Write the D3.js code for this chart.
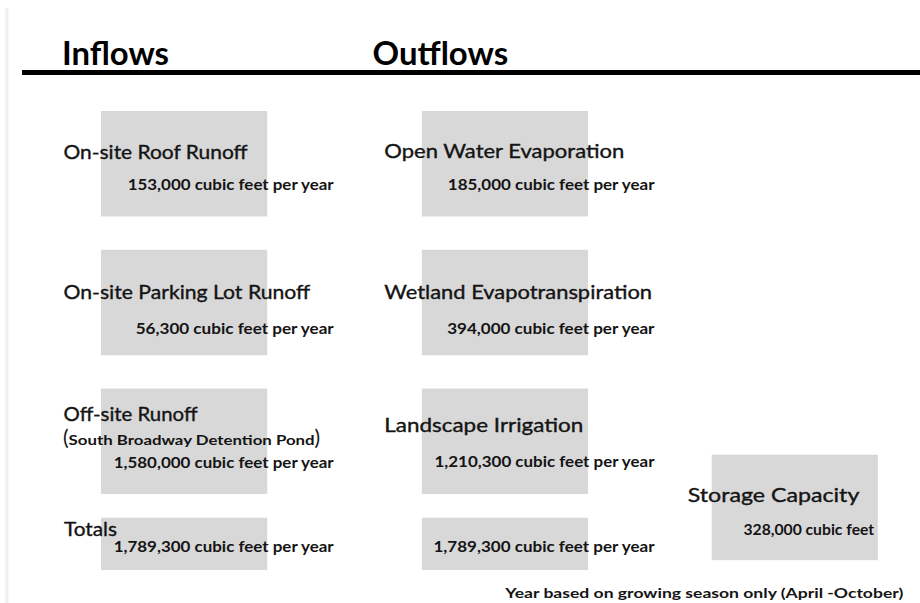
<!DOCTYPE html>
<html>
<head>
<meta charset="utf-8">
<script src="https://cdn.jsdelivr.net/npm/d3@7/dist/d3.min.js"></script>
<style>
  html, body { margin: 0; padding: 0; background: #fff; }
  svg { display: block; font-family: Lato, "Open Sans", sans-serif; }
  .label { stroke: #141414; stroke-width: 0.35px; }
</style>
</head>
<body>
<svg id="svg" width="920" height="603"></svg>
<script>
// data
var headings = ['Inflows', 'Outflows'];
var inflowNames = ['On-site Roof Runoff', 'On-site Parking Lot Runoff', 'Off-site Runoff'];
var inflowNotes = ['', '', 'South Broadway Detention Pond'];
var inflowValues = [153000, 56300, 1580000];
var outflowNames = ['Open Water Evaporation', 'Wetland Evapotranspiration', 'Landscape Irrigation'];
var outflowValues = [185000, 394000, 1210300];
var totalsLabel = 'Totals';
var totalValues = [1789300, 1789300];
var storageName = 'Storage Capacity';
var storageValue = 328000;
var footnote = 'Year based on growing season only (April -October)';

// layout: baselines relative to the box top, and text widths (the original face is wide)
var inLabelDy = [48.3, 49.5, 32.2], inValueDy = [79, 84.5, 79.8];
var outLabelDy = [47.3, 49.5, 43.2], outValueDy = [79, 84.5, 78.2];
var inLabelW = [184, 246.7, 134], outLabelW = [240, 267.7, 199];
var inValueW = [206, 198, 220], outValueW = [206.7, 207.3, 220];
var headW = [107, 135.7];

var fmt = d3.format(',');
var boxColor = '#d8d8d8';
var ink = '#141414';

var svg = d3.select('#svg');

// faint edge at the left
svg.append('line').attr('x1', 7).attr('x2', 7).attr('y1', 8).attr('y2', 603)
    .attr('stroke', '#f0f0f0').attr('stroke-width', 3);

// columns and rows
var col = d3.scaleBand().domain(['in', 'out']).range([101, 588]).paddingInner(0.482);
var row = d3.scaleBand().domain([0, 1, 2]).range([111, 494]).paddingInner(0.24);

function fit(sel, w) {
    sel.attr('textLength', w).attr('lengthAdjust', 'spacingAndGlyphs');
}

// heading and rule
svg.append('g').selectAll('text').data(headings).enter().append('text')
    .attr('class', 'head')
    .attr('x', function(d, i) { return i == 0 ? 62 : 372.5; })
    .attr('y', 65)
    .attr('font-size', 32).attr('font-weight', 700).attr('fill', '#000')
    .attr('textLength', function(d, i) { return headW[i]; }).attr('lengthAdjust', 'spacingAndGlyphs')
    .text(function(d) { return d; });

svg.append('line').attr('x1', 22).attr('x2', 920).attr('y1', 72.5).attr('y2', 72.5)
    .attr('stroke', '#000').attr('stroke-width', 5);

function drawColumn(key, names, values, labelDy, valueDy, labelW, valueW, notes) {
    var g = svg.append('g').attr('class', 'col-' + key);
    var x0 = col(key), bw = col.bandwidth();

    g.selectAll('rect').data(values).enter().append('rect')
        .attr('x', x0).attr('y', function(d, i) { return row(i); })
        .attr('width', bw).attr('height', row.bandwidth())
        .attr('fill', boxColor);

    g.selectAll('text.label').data(names).enter().append('text')
        .attr('class', 'label')
        .attr('x', x0 - 37.5)
        .attr('y', function(d, i) { return row(i) + labelDy[i]; })
        .attr('font-size', 18.5).attr('fill', ink)
        .attr('textLength', function(d, i) { return labelW[i]; }).attr('lengthAdjust', 'spacingAndGlyphs')
        .text(function(d) { return d; });

    g.selectAll('text.value').data(values).enter().append('text')
        .attr('class', 'value')
        .attr('x', x0 + bw + 66.5)
        .attr('y', function(d, i) { return row(i) + valueDy[i]; })
        .attr('text-anchor', 'end')
        .attr('font-size', 15.5).attr('font-weight', 700).attr('fill', ink)
        .attr('textLength', function(d, i) { return valueW[i]; }).attr('lengthAdjust', 'spacingAndGlyphs')
        .text(function(d) { return fmt(d) + ' cubic feet per year'; });

    if (notes) {
        var n = g.selectAll('text.note').data(notes.filter(function(d) { return d; })).enter().append('text')
            .attr('class', 'note')
            .attr('x', x0 - 38)
            .attr('y', function(d) { return row(notes.indexOf(d)) + 56; })
            .attr('fill', ink);
        n.append('tspan').attr('font-size', 21).text('(');
        n.append('tspan').attr('font-size', 12.5).attr('font-weight', 700)
            .attr('textLength', 246).attr('lengthAdjust', 'spacingAndGlyphs')
            .text(function(d) { return d; });
        n.append('tspan').attr('font-size', 21).text(')');
    }
}

drawColumn('in', inflowNames, inflowValues, inLabelDy, inValueDy, inLabelW, inValueW, inflowNotes);
drawColumn('out', outflowNames, outflowValues, outLabelDy, outValueDy, outLabelW, outValueW);

// totals
var totY = 517.7, totH = 52.3;
var totW = [220, 221];
var tg = svg.append('g').attr('class', 'totals');
tg.selectAll('rect').data(totalValues).enter().append('rect')
    .attr('x', function(d, i) { return col(['in', 'out'][i]); })
    .attr('y', totY).attr('width', col.bandwidth()).attr('height', totH)
    .attr('fill', boxColor);
tg.append('text').attr('class', 'label').attr('x', 64).attr('y', 536)
    .attr('font-size', 18.5).attr('fill', ink).call(fit, 53).text(totalsLabel);
tg.selectAll('text.value').data(totalValues).enter().append('text')
    .attr('class', 'value')
    .attr('x', function(d, i) { return col(['in', 'out'][i]) + col.bandwidth() + 66.5; })
    .attr('y', 551.7).attr('text-anchor', 'end')
    .attr('font-size', 15.5).attr('font-weight', 700).attr('fill', ink)
    .attr('textLength', function(d, i) { return totW[i]; }).attr('lengthAdjust', 'spacingAndGlyphs')
    .text(function(d) { return fmt(d) + ' cubic feet per year'; });

// storage
var sx = 711.7, sy = 454.7;
var sg = svg.append('g').attr('class', 'storage');
sg.append('rect').attr('x', sx).attr('y', sy).attr('width', col.bandwidth()).attr('height', row.bandwidth())
    .attr('fill', boxColor);
sg.append('text').attr('class', 'label').attr('x', sx - 24).attr('y', sy + 47.6)
    .attr('font-size', 18.5).attr('fill', ink).call(fit, 171.7).text(storageName);
sg.append('text').attr('class', 'value').attr('x', sx + col.bandwidth() - 3.7).attr('y', sy + 80)
    .attr('text-anchor', 'end')
    .attr('font-size', 15.5).attr('font-weight', 700).attr('fill', ink)
    .call(fit, 130.7)
    .text(fmt(storageValue) + ' cubic feet');

// footnote
svg.append('text').attr('x', 903.3).attr('y', 598).attr('text-anchor', 'end')
    .attr('font-size', 14).attr('font-weight', 700).attr('fill', ink)
    .call(fit, 398)
    .text(footnote);
</script>
</body>
</html>
